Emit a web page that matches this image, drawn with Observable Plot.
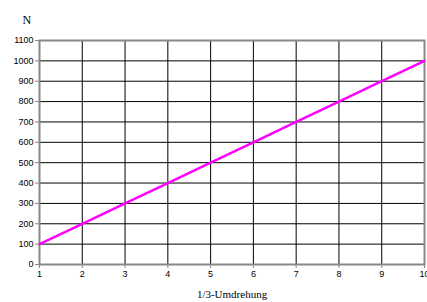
<!DOCTYPE html>
<html><head><meta charset="utf-8">
<script src="https://cdn.jsdelivr.net/npm/d3@7"></script>
<script src="https://cdn.jsdelivr.net/npm/@observablehq/plot@0.6"></script>
<style>body{margin:0;background:#fff}</style>
</head><body><div id="chart"></div>
<script>
const umdrehung = [1,2,3,4,5,6,7,8,9,10];
const kraftN = [100,200,300,400,500,600,700,800,900,1000];
const xTicks = [1,2,3,4,5,6,7,8,9,10];
const yTicks = [0,100,200,300,400,500,600,700,800,900,1000,1100];
const data = umdrehung.map((x,i)=>({x, y:kraftN[i]}));

const chart = Plot.plot({
  width: 427, height: 302,
  marginLeft: 39, marginRight: 3, marginTop: 40, marginBottom: 38,
  style: {fontFamily: "Liberation Sans, Arial, sans-serif", fontSize: "9px", background: "#fff", color: "#000"},
  x: {domain: [1,10], ticks: xTicks, tickFormat: "d", tickSize: 4, tickPadding: 2, label: null},
  y: {domain: [0,1100], ticks: yTicks, tickFormat: "d", tickSize: 4, tickPadding: 2, label: null},
  marks: [
    Plot.gridX(xTicks, {stroke: "#000", strokeOpacity: 1, strokeWidth: 1}),
    Plot.gridY(yTicks, {stroke: "#000", strokeOpacity: 1, strokeWidth: 1}),
    Plot.frame({stroke: "#888", strokeWidth: 2}),
    Plot.line(data, {x: "x", y: "y", stroke: "#ff00ff", strokeWidth: 2.5}),
    Plot.axisX({ticks: xTicks, tickFormat: "d", tickSize: 4, tickPadding: 2, label: null, stroke: "#888"}),
    Plot.axisY({ticks: yTicks, tickFormat: "d", tickSize: 4, tickPadding: 2, label: null, stroke: "#888"}),
    Plot.text(["N"], {frameAnchor: "top-left", dx: -17, dy: -25, fontFamily: "Liberation Serif, Times New Roman, serif", fontSize: 12, textAnchor: "start"}),
    Plot.text(["1/3-Umdrehung"], {frameAnchor: "bottom", dy: 33, fontFamily: "Liberation Serif, Times New Roman, serif", fontSize: 11})
  ]
});
document.getElementById("chart").appendChild(chart);
</script>
</body></html>
